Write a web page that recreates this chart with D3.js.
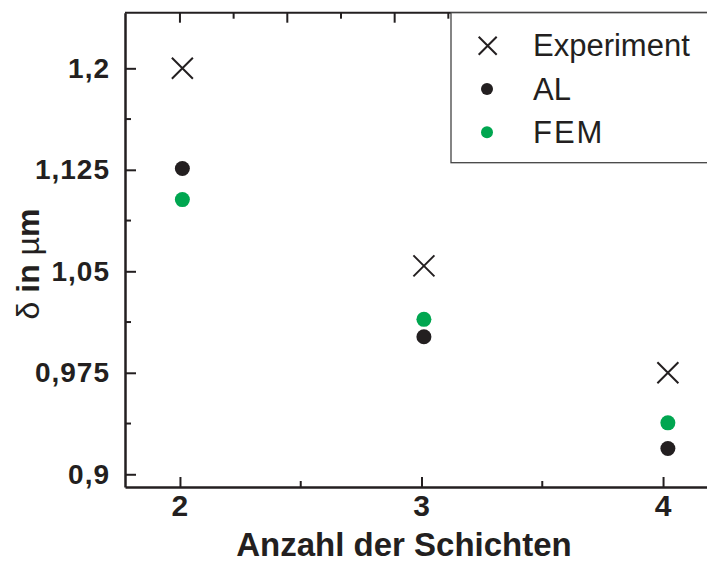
<!DOCTYPE html>
<html>
<head>
<meta charset="utf-8">
<script src="https://cdn.jsdelivr.net/npm/d3@7"></script>
<style>
  body { margin: 0; background: #fff; }
  svg { display: block; font-family: "Liberation Sans", Arial, sans-serif; }
</style>
</head>
<body>
<script>
// Anzahl der Schichten
const layers = [2, 3, 4];
const xPos = [2.01, 3.01, 4.02];
// delta in um
const experiment = [1.2, 1.054, 0.975];
const al = [1.126, 1.0016, 0.919];
const fem = [1.103, 1.0145, 0.938];

const yMajor = [0.9, 0.975, 1.05, 1.125, 1.2];
const yLabels = ["0,9", "0,975", "1,05", "1,125", "1,2"];
const yMinor = [0.9375, 1.0125, 1.0875, 1.1625];
const xMinor = [2.5, 3.5];

const legendItems = ["Experiment", "AL", "FEM"];

const ink = "#231f20";
const green = "#00a650";

const width = 707, height = 563;
const margin = { top: 12.7, left: 125, bottom: 487, right: 718 };

const svg = d3.select("body").append("svg")
  .attr("width", width)
  .attr("height", height);

const x = d3.scaleLinear().domain([1.7725, 4.2275]).range([margin.left, margin.right]);
const y = d3.scaleLinear().domain([0.8906, 1.2411]).range([margin.bottom, margin.top]);

// Achsen
const yAxis = d3.axisLeft(y).tickValues(yMajor).tickSizeInner(-11).tickSizeOuter(0)
  .tickFormat((d, i) => yLabels[i]).tickPadding(15);
const gy = svg.append("g").attr("transform", "translate(" + margin.left + ",0)").call(yAxis);
gy.selectAll(".tick text").attr("x", -15);

const xAxis = d3.axisBottom(x).tickValues(layers).tickFormat(d3.format("d"))
  .tickSizeInner(-10).tickSizeOuter(0).tickPadding(0);
const gx = svg.append("g").attr("transform", "translate(0," + margin.bottom + ")").call(xAxis);
gx.selectAll(".tick text").attr("y", 29).attr("dy", 0);

// Nebenstriche
svg.append("g").selectAll("line").data(yMinor).join("line")
  .attr("x1", margin.left).attr("x2", margin.left + 6)
  .attr("y1", d => y(d)).attr("y2", d => y(d));
svg.append("g").selectAll("line").data(xMinor).join("line")
  .attr("x1", d => x(d)).attr("x2", d => x(d))
  .attr("y1", margin.bottom).attr("y2", margin.bottom - 6);

// obere Achse
const topTicks = d3.range(0, 11).map(k => 2 + k * 2 / 9);
svg.append("g").selectAll("line").data(topTicks).join("line")
  .attr("x1", d => x(d)).attr("x2", d => x(d))
  .attr("y1", margin.top).attr("y2", (d, i) => margin.top + (i % 2 === 0 ? 10 : 6));
svg.append("line")
  .attr("x1", margin.left).attr("x2", width)
  .attr("y1", margin.top).attr("y2", margin.top)
  .attr("stroke", ink).attr("stroke-width", 2.5);

svg.selectAll("line").attr("stroke", ink).attr("stroke-width", 2);
svg.selectAll(".domain").attr("stroke", ink).attr("stroke-width", 2.5);
svg.selectAll(".tick text")
  .attr("fill", ink)
  .style("font-size", "28px")
  .style("font-weight", "bold")
  .style("letter-spacing", "1px");
gx.selectAll(".tick text").style("font-size", "30px");

// Legende
svg.append("rect")
  .attr("x", 451).attr("y", margin.top)
  .attr("width", 300).attr("height", 162.7 - margin.top)
  .attr("fill", "#fff").attr("stroke", "#444").attr("stroke-width", 1.3);

function cross(g, cx, cy, h) {
  g.append("path")
    .attr("d", "M" + (cx - h) + "," + (cy - h) + "L" + (cx + h) + "," + (cy + h) +
               "M" + (cx - h) + "," + (cy + h) + "L" + (cx + h) + "," + (cy - h))
    .attr("stroke", ink).attr("stroke-width", 2).attr("fill", "none");
}

const legend = svg.append("g");
legendItems.forEach((name, i) => {
  const cy = 45.7 + i * 43.3;
  if (i === 0) cross(legend, 487.7, cy, 9);
  else legend.append("circle").attr("cx", 487).attr("cy", cy).attr("r", 6)
    .attr("fill", i === 1 ? ink : green);
  legend.append("text")
    .attr("x", 533).attr("y", cy + 10.5)
    .attr("fill", ink)
    .style("font-size", "31px")
    .style("letter-spacing", name === "FEM" ? "2px" : "0px")
    .text(name);
});

// Daten
const points = svg.append("g");
layers.forEach((d, i) => {
  cross(points, x(xPos[i]), y(experiment[i]), 10.5);
  points.append("circle").attr("cx", x(xPos[i])).attr("cy", y(al[i])).attr("r", 7.5).attr("fill", ink);
  points.append("circle").attr("cx", x(xPos[i])).attr("cy", y(fem[i])).attr("r", 7.5).attr("fill", green);
});

// Achsentitel
svg.append("text")
  .attr("x", 404).attr("y", 556)
  .attr("text-anchor", "middle")
  .attr("fill", ink)
  .style("font-size", "33px")
  .style("font-weight", "bold")
  .text("Anzahl der Schichten");

const yt = svg.append("text")
  .attr("transform", "translate(39,264) rotate(-90)")
  .attr("text-anchor", "middle")
  .attr("fill", ink)
  .style("font-size", "32px")
  .style("font-weight", "bold");
yt.append("tspan").style("font-weight", "normal").text("δ");
yt.append("tspan").text(" in ");
yt.append("tspan").style("font-weight", "normal").text("µ");
yt.append("tspan").text("m");
</script>
</body>
</html>
